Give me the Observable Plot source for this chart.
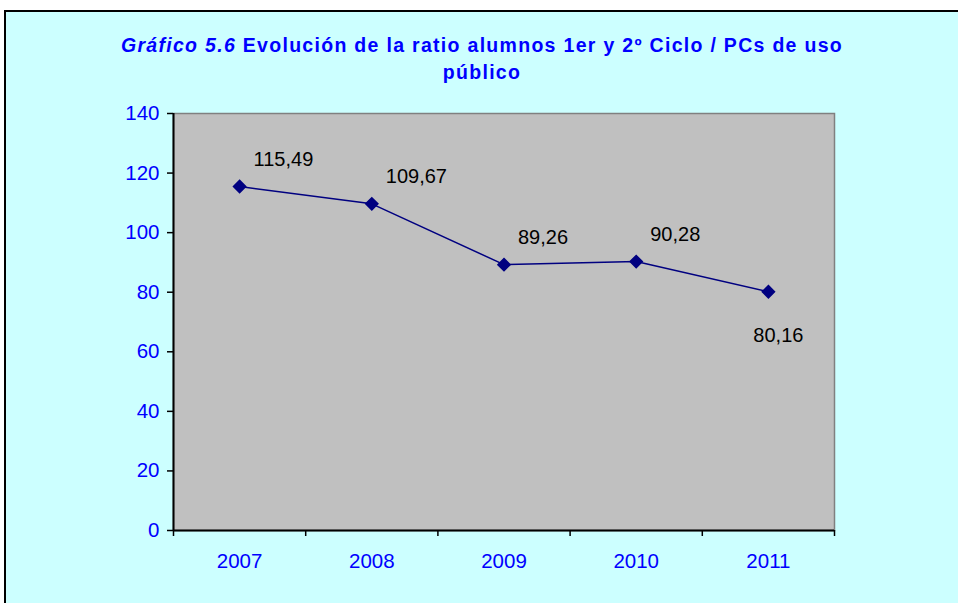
<!DOCTYPE html>
<html>
<head>
<meta charset="utf-8">
<script src="https://cdn.jsdelivr.net/npm/d3@7"></script>
<script src="https://cdn.jsdelivr.net/npm/@observablehq/plot@0.6"></script>
<style>
  html, body { margin: 0; padding: 0; width: 958px; height: 603px; overflow: hidden; background: #ffffff; }
  #frame { position: absolute; left: 4px; top: 10px; width: 990px; height: 620px; border: 2px solid #000; background: #ccffff; box-sizing: border-box; }
  #title { position: absolute; left: 4px; top: 32px; width: 956px; text-align: center; font-family: "Liberation Sans", Arial, sans-serif; font-weight: bold; font-size: 19.5px; letter-spacing: 1.3px; line-height: 27px; color: #0000ff; }
  #chart { position: absolute; left: 0; top: 100px; }
</style>
</head>
<body>
<div id="frame"></div>
<div id="title"><i>Gráfico 5.6</i> Evolución de la ratio alumnos 1er y 2º Ciclo / PCs de uso<br>público</div>
<div id="chart"></div>
<script>
const years = [2007, 2008, 2009, 2010, 2011];
const ratios = [115.49, 109.67, 89.26, 90.28, 80.16];
const labels = ["115,49", "109,67", "89,26", "90,28", "80,16"];
const labelSide = ["above", "above", "above", "above", "below"];
const yTicks = [0, 20, 40, 60, 80, 100, 120, 140];
const boundaries = [2006.5, 2007.5, 2008.5, 2009.5, 2010.5, 2011.5];

const data = years.map((y, i) => ({year: y, value: ratios[i], label: labels[i], side: labelSide[i]}));
const above = data.filter(d => d.side === "above");
const below = data.filter(d => d.side === "below");

const chart = Plot.plot({
  width: 958,
  height: 503,
  marginTop: 13,
  marginBottom: 73,
  marginLeft: 173,
  marginRight: 124,
  style: {fontFamily: "'Liberation Sans', Arial, sans-serif", background: "transparent"},
  x: {domain: [2006.5, 2011.5]},
  y: {domain: [0, 140]},
  marks: [
    Plot.frame({fill: "#c0c0c0", stroke: "#808080", strokeWidth: 1.5}),
    Plot.ruleX([2006.5], {stroke: "#000", strokeWidth: 2}),
    Plot.ruleY([0], {stroke: "#000", strokeWidth: 2}),
    Plot.axisY({ticks: yTicks, tickSize: 6, tickFormat: () => "", stroke: "#000", strokeWidth: 1.5, label: null}),
    Plot.axisY({ticks: yTicks, tickSize: 0, tickPadding: 14, fontSize: 20.5, fill: "#0000ff", label: null}),
    Plot.axisX({ticks: boundaries, tickSize: 6, tickFormat: () => "", stroke: "#000", strokeWidth: 1.5, label: null}),
    Plot.axisX({ticks: years, tickSize: 0, tickPadding: 23, fontSize: 20.5, fill: "#0000ff", tickFormat: d => String(d), label: null}),
    Plot.line(data, {x: "year", y: "value", stroke: "#000080", strokeWidth: 1.5}),
    Plot.dot(data, {x: "year", y: "value", symbol: "diamond2", r: 5.5, fill: "#000080", stroke: "#000080"}),
    Plot.text(above, {x: "year", y: "value", text: "label", textAnchor: "start", dx: 14, dy: -27, fontSize: 20, fill: "#000"}),
    Plot.text(below, {x: "year", y: "value", text: "label", textAnchor: "middle", dx: 10, dy: 44, fontSize: 20, fill: "#000"})
  ]
});
document.getElementById("chart").appendChild(chart);
</script>
</body>
</html>
